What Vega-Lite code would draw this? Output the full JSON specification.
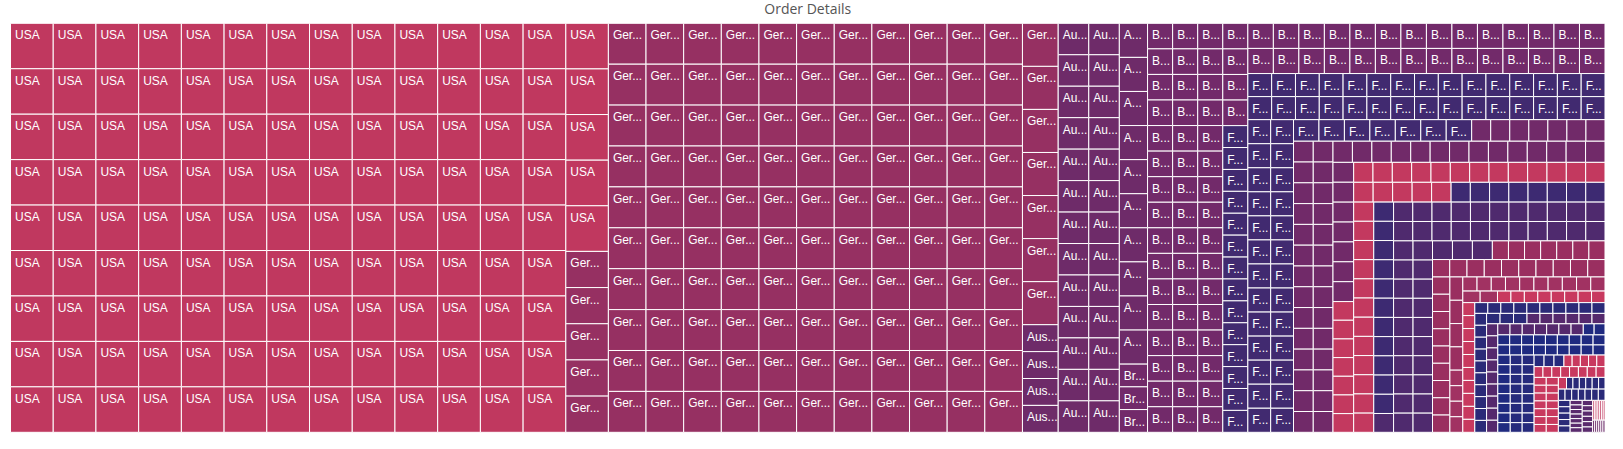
{
"$schema":"https://vega.github.io/schema/vega-lite/v6.json",
"width":1594.5,"height":409,"autosize":"none",
"padding":{"left":10.5,"top":23.3,"right":18,"bottom":17},
"background":"white",
"title":{"text":"Order Details","font":"Open Sans","fontSize":14,"fontWeight":"normal","color":"#555555","offset":6,"anchor":"middle"},
"config":{"view":{"stroke":null}},
"data":{"values":[
{"c":"USA","v":1938,"p":0,"s":1},{"c":"USA","v":1938,"p":0,"s":1},{"c":"USA","v":1938,"p":0,"s":1},{"c":"USA","v":1938,"p":0,"s":1},{"c":"USA","v":1938,"p":0,"s":1},{"c":"USA","v":1938,"p":0,"s":1},{"c":"USA","v":1938,"p":0,"s":1},{"c":"USA","v":1938,"p":0,"s":1},{"c":"USA","v":1938,"p":0,"s":1},
{"c":"USA","v":1938,"p":0,"s":2},{"c":"USA","v":1938,"p":0,"s":2},{"c":"USA","v":1938,"p":0,"s":2},{"c":"USA","v":1938,"p":0,"s":2},{"c":"USA","v":1938,"p":0,"s":2},{"c":"USA","v":1938,"p":0,"s":2},{"c":"USA","v":1938,"p":0,"s":2},{"c":"USA","v":1938,"p":0,"s":2},{"c":"USA","v":1938,"p":0,"s":2},
{"c":"USA","v":1938,"p":0,"s":3},{"c":"USA","v":1938,"p":0,"s":3},{"c":"USA","v":1938,"p":0,"s":3},{"c":"USA","v":1938,"p":0,"s":3},{"c":"USA","v":1938,"p":0,"s":3},{"c":"USA","v":1938,"p":0,"s":3},{"c":"USA","v":1938,"p":0,"s":3},{"c":"USA","v":1938,"p":0,"s":3},{"c":"USA","v":1938,"p":0,"s":3},
{"c":"USA","v":1938,"p":0,"s":4},{"c":"USA","v":1938,"p":0,"s":4},{"c":"USA","v":1938,"p":0,"s":4},{"c":"USA","v":1938,"p":0,"s":4},{"c":"USA","v":1938,"p":0,"s":4},{"c":"USA","v":1938,"p":0,"s":4},{"c":"USA","v":1938,"p":0,"s":4},{"c":"USA","v":1938,"p":0,"s":4},{"c":"USA","v":1938,"p":0,"s":4},
{"c":"USA","v":1938,"p":0,"s":5},{"c":"USA","v":1938,"p":0,"s":5},{"c":"USA","v":1938,"p":0,"s":5},{"c":"USA","v":1938,"p":0,"s":5},{"c":"USA","v":1938,"p":0,"s":5},{"c":"USA","v":1938,"p":0,"s":5},{"c":"USA","v":1938,"p":0,"s":5},{"c":"USA","v":1938,"p":0,"s":5},{"c":"USA","v":1938,"p":0,"s":5},
{"c":"USA","v":1938,"p":0,"s":6},{"c":"USA","v":1938,"p":0,"s":6},{"c":"USA","v":1938,"p":0,"s":6},{"c":"USA","v":1938,"p":0,"s":6},{"c":"USA","v":1938,"p":0,"s":6},{"c":"USA","v":1938,"p":0,"s":6},{"c":"USA","v":1938,"p":0,"s":6},{"c":"USA","v":1938,"p":0,"s":6},{"c":"USA","v":1938,"p":0,"s":6},
{"c":"USA","v":1938,"p":0,"s":7},{"c":"USA","v":1938,"p":0,"s":7},{"c":"USA","v":1938,"p":0,"s":7},{"c":"USA","v":1938,"p":0,"s":7},{"c":"USA","v":1938,"p":0,"s":7},{"c":"USA","v":1938,"p":0,"s":7},{"c":"USA","v":1938,"p":0,"s":7},{"c":"USA","v":1938,"p":0,"s":7},{"c":"USA","v":1938,"p":0,"s":7},
{"c":"USA","v":1938,"p":0,"s":8},{"c":"USA","v":1938,"p":0,"s":8},{"c":"USA","v":1938,"p":0,"s":8},{"c":"USA","v":1938,"p":0,"s":8},{"c":"USA","v":1938,"p":0,"s":8},{"c":"USA","v":1938,"p":0,"s":8},{"c":"USA","v":1938,"p":0,"s":8},{"c":"USA","v":1938,"p":0,"s":8},{"c":"USA","v":1938,"p":0,"s":8},
{"c":"USA","v":1938,"p":0,"s":9},{"c":"USA","v":1938,"p":0,"s":9},{"c":"USA","v":1938,"p":0,"s":9},{"c":"USA","v":1938,"p":0,"s":9},{"c":"USA","v":1938,"p":0,"s":9},{"c":"USA","v":1938,"p":0,"s":9},{"c":"USA","v":1938,"p":0,"s":9},{"c":"USA","v":1938,"p":0,"s":9},{"c":"USA","v":1938,"p":0,"s":9},
{"c":"USA","v":1938,"p":0,"s":10},{"c":"USA","v":1938,"p":0,"s":10},{"c":"USA","v":1938,"p":0,"s":10},{"c":"USA","v":1938,"p":0,"s":10},{"c":"USA","v":1938,"p":0,"s":10},{"c":"USA","v":1938,"p":0,"s":10},{"c":"USA","v":1938,"p":0,"s":10},{"c":"USA","v":1938,"p":0,"s":10},{"c":"USA","v":1938,"p":0,"s":10},
{"c":"USA","v":1938,"p":0,"s":11},{"c":"USA","v":1938,"p":0,"s":11},{"c":"USA","v":1938,"p":0,"s":11},{"c":"USA","v":1938,"p":0,"s":11},{"c":"USA","v":1938,"p":0,"s":11},{"c":"USA","v":1938,"p":0,"s":11},{"c":"USA","v":1938,"p":0,"s":11},{"c":"USA","v":1938,"p":0,"s":11},{"c":"USA","v":1938,"p":0,"s":11},
{"c":"USA","v":1938,"p":0,"s":12},{"c":"USA","v":1938,"p":0,"s":12},{"c":"USA","v":1938,"p":0,"s":12},{"c":"USA","v":1938,"p":0,"s":12},{"c":"USA","v":1938,"p":0,"s":12},{"c":"USA","v":1938,"p":0,"s":12},{"c":"USA","v":1938,"p":0,"s":12},{"c":"USA","v":1938,"p":0,"s":12},{"c":"USA","v":1938,"p":0,"s":12},
{"c":"USA","v":1938,"p":0,"s":13},{"c":"USA","v":1938,"p":0,"s":13},{"c":"USA","v":1938,"p":0,"s":13},{"c":"USA","v":1938,"p":0,"s":13},{"c":"USA","v":1938,"p":0,"s":13},{"c":"USA","v":1938,"p":0,"s":13},{"c":"USA","v":1938,"p":0,"s":13},{"c":"USA","v":1938,"p":0,"s":13},{"c":"USA","v":1938,"p":0,"s":13},
{"c":"USA","v":1938,"p":0,"s":14},{"c":"USA","v":1938,"p":0,"s":14},{"c":"USA","v":1938,"p":0,"s":14},{"c":"USA","v":1938,"p":0,"s":14},{"c":"USA","v":1938,"p":0,"s":14},{"c":"Germany","v":1537,"p":0,"s":14},{"c":"Germany","v":1537,"p":0,"s":14},{"c":"Germany","v":1537,"p":0,"s":14},{"c":"Germany","v":1537,"p":0,"s":14},{"c":"Germany","v":1537,"p":0,"s":14},
{"c":"Germany","v":1537,"p":0,"s":15},{"c":"Germany","v":1537,"p":0,"s":15},{"c":"Germany","v":1537,"p":0,"s":15},{"c":"Germany","v":1537,"p":0,"s":15},{"c":"Germany","v":1537,"p":0,"s":15},{"c":"Germany","v":1537,"p":0,"s":15},{"c":"Germany","v":1537,"p":0,"s":15},{"c":"Germany","v":1537,"p":0,"s":15},{"c":"Germany","v":1537,"p":0,"s":15},{"c":"Germany","v":1537,"p":0,"s":15},
{"c":"Germany","v":1537,"p":0,"s":16},{"c":"Germany","v":1537,"p":0,"s":16},{"c":"Germany","v":1537,"p":0,"s":16},{"c":"Germany","v":1537,"p":0,"s":16},{"c":"Germany","v":1537,"p":0,"s":16},{"c":"Germany","v":1537,"p":0,"s":16},{"c":"Germany","v":1537,"p":0,"s":16},{"c":"Germany","v":1537,"p":0,"s":16},{"c":"Germany","v":1537,"p":0,"s":16},{"c":"Germany","v":1537,"p":0,"s":16},
{"c":"Germany","v":1537,"p":0,"s":17},{"c":"Germany","v":1537,"p":0,"s":17},{"c":"Germany","v":1537,"p":0,"s":17},{"c":"Germany","v":1537,"p":0,"s":17},{"c":"Germany","v":1537,"p":0,"s":17},{"c":"Germany","v":1537,"p":0,"s":17},{"c":"Germany","v":1537,"p":0,"s":17},{"c":"Germany","v":1537,"p":0,"s":17},{"c":"Germany","v":1537,"p":0,"s":17},{"c":"Germany","v":1537,"p":0,"s":17},
{"c":"Germany","v":1537,"p":0,"s":18},{"c":"Germany","v":1537,"p":0,"s":18},{"c":"Germany","v":1537,"p":0,"s":18},{"c":"Germany","v":1537,"p":0,"s":18},{"c":"Germany","v":1537,"p":0,"s":18},{"c":"Germany","v":1537,"p":0,"s":18},{"c":"Germany","v":1537,"p":0,"s":18},{"c":"Germany","v":1537,"p":0,"s":18},{"c":"Germany","v":1537,"p":0,"s":18},{"c":"Germany","v":1537,"p":0,"s":18},
{"c":"Germany","v":1537,"p":0,"s":19},{"c":"Germany","v":1537,"p":0,"s":19},{"c":"Germany","v":1537,"p":0,"s":19},{"c":"Germany","v":1537,"p":0,"s":19},{"c":"Germany","v":1537,"p":0,"s":19},{"c":"Germany","v":1537,"p":0,"s":19},{"c":"Germany","v":1537,"p":0,"s":19},{"c":"Germany","v":1537,"p":0,"s":19},{"c":"Germany","v":1537,"p":0,"s":19},{"c":"Germany","v":1537,"p":0,"s":19},
{"c":"Germany","v":1537,"p":0,"s":20},{"c":"Germany","v":1537,"p":0,"s":20},{"c":"Germany","v":1537,"p":0,"s":20},{"c":"Germany","v":1537,"p":0,"s":20},{"c":"Germany","v":1537,"p":0,"s":20},{"c":"Germany","v":1537,"p":0,"s":20},{"c":"Germany","v":1537,"p":0,"s":20},{"c":"Germany","v":1537,"p":0,"s":20},{"c":"Germany","v":1537,"p":0,"s":20},{"c":"Germany","v":1537,"p":0,"s":20},
{"c":"Germany","v":1537,"p":0,"s":21},{"c":"Germany","v":1537,"p":0,"s":21},{"c":"Germany","v":1537,"p":0,"s":21},{"c":"Germany","v":1537,"p":0,"s":21},{"c":"Germany","v":1537,"p":0,"s":21},{"c":"Germany","v":1537,"p":0,"s":21},{"c":"Germany","v":1537,"p":0,"s":21},{"c":"Germany","v":1537,"p":0,"s":21},{"c":"Germany","v":1537,"p":0,"s":21},{"c":"Germany","v":1537,"p":0,"s":21},
{"c":"Germany","v":1537,"p":0,"s":22},{"c":"Germany","v":1537,"p":0,"s":22},{"c":"Germany","v":1537,"p":0,"s":22},{"c":"Germany","v":1537,"p":0,"s":22},{"c":"Germany","v":1537,"p":0,"s":22},{"c":"Germany","v":1537,"p":0,"s":22},{"c":"Germany","v":1537,"p":0,"s":22},{"c":"Germany","v":1537,"p":0,"s":22},{"c":"Germany","v":1537,"p":0,"s":22},{"c":"Germany","v":1537,"p":0,"s":22},
{"c":"Germany","v":1537,"p":0,"s":23},{"c":"Germany","v":1537,"p":0,"s":23},{"c":"Germany","v":1537,"p":0,"s":23},{"c":"Germany","v":1537,"p":0,"s":23},{"c":"Germany","v":1537,"p":0,"s":23},{"c":"Germany","v":1537,"p":0,"s":23},{"c":"Germany","v":1537,"p":0,"s":23},{"c":"Germany","v":1537,"p":0,"s":23},{"c":"Germany","v":1537,"p":0,"s":23},{"c":"Germany","v":1537,"p":0,"s":23},
{"c":"Germany","v":1537,"p":0,"s":24},{"c":"Germany","v":1537,"p":0,"s":24},{"c":"Germany","v":1537,"p":0,"s":24},{"c":"Germany","v":1537,"p":0,"s":24},{"c":"Germany","v":1537,"p":0,"s":24},{"c":"Germany","v":1537,"p":0,"s":24},{"c":"Germany","v":1537,"p":0,"s":24},{"c":"Germany","v":1537,"p":0,"s":24},{"c":"Germany","v":1537,"p":0,"s":24},{"c":"Germany","v":1537,"p":0,"s":24},
{"c":"Germany","v":1537,"p":0,"s":25},{"c":"Germany","v":1537,"p":0,"s":25},{"c":"Germany","v":1537,"p":0,"s":25},{"c":"Germany","v":1537,"p":0,"s":25},{"c":"Germany","v":1537,"p":0,"s":25},{"c":"Germany","v":1537,"p":0,"s":25},{"c":"Germany","v":1537,"p":0,"s":25},{"c":"Germany","v":1537,"p":0,"s":25},{"c":"Germany","v":1537,"p":0,"s":25},{"c":"Germany","v":1537,"p":0,"s":25},
{"c":"Germany","v":1537,"p":0,"s":26},{"c":"Germany","v":1537,"p":0,"s":26},{"c":"Germany","v":1537,"p":0,"s":26},{"c":"Germany","v":1537,"p":0,"s":26},{"c":"Germany","v":1537,"p":0,"s":26},{"c":"Germany","v":1537,"p":0,"s":26},{"c":"Germany","v":1537,"p":0,"s":26},{"c":"Austria","v":960,"p":0,"s":26},{"c":"Austria","v":960,"p":0,"s":26},{"c":"Austria","v":960,"p":0,"s":26},{"c":"Austria","v":960,"p":0,"s":26},
{"c":"Austria","v":960,"p":0,"s":27},{"c":"Austria","v":960,"p":0,"s":27},{"c":"Austria","v":960,"p":0,"s":27},{"c":"Austria","v":960,"p":0,"s":27},{"c":"Austria","v":960,"p":0,"s":27},{"c":"Austria","v":960,"p":0,"s":27},{"c":"Austria","v":960,"p":0,"s":27},{"c":"Austria","v":960,"p":0,"s":27},{"c":"Austria","v":960,"p":0,"s":27},{"c":"Austria","v":960,"p":0,"s":27},{"c":"Austria","v":960,"p":0,"s":27},{"c":"Austria","v":960,"p":0,"s":27},{"c":"Austria","v":960,"p":0,"s":27},
{"c":"Austria","v":960,"p":0,"s":28},{"c":"Austria","v":960,"p":0,"s":28},{"c":"Austria","v":960,"p":0,"s":28},{"c":"Austria","v":960,"p":0,"s":28},{"c":"Austria","v":960,"p":0,"s":28},{"c":"Austria","v":960,"p":0,"s":28},{"c":"Austria","v":960,"p":0,"s":28},{"c":"Austria","v":960,"p":0,"s":28},{"c":"Austria","v":960,"p":0,"s":28},{"c":"Austria","v":960,"p":0,"s":28},{"c":"Austria","v":960,"p":0,"s":28},{"c":"Austria","v":960,"p":0,"s":28},{"c":"Austria","v":960,"p":0,"s":28},
{"c":"Austria","v":960,"p":0,"s":29},{"c":"Austria","v":960,"p":0,"s":29},{"c":"Austria","v":960,"p":0,"s":29},{"c":"Austria","v":960,"p":0,"s":29},{"c":"Austria","v":960,"p":0,"s":29},{"c":"Austria","v":960,"p":0,"s":29},{"c":"Austria","v":960,"p":0,"s":29},{"c":"Austria","v":960,"p":0,"s":29},{"c":"Austria","v":960,"p":0,"s":29},{"c":"Austria","v":960,"p":0,"s":29},{"c":"Brazil","v":640,"p":0,"s":29},{"c":"Brazil","v":640,"p":0,"s":29},{"c":"Brazil","v":640,"p":0,"s":29},
{"c":"Brazil","v":640,"p":0,"s":30},{"c":"Brazil","v":640,"p":0,"s":30},{"c":"Brazil","v":640,"p":0,"s":30},{"c":"Brazil","v":640,"p":0,"s":30},{"c":"Brazil","v":640,"p":0,"s":30},{"c":"Brazil","v":640,"p":0,"s":30},{"c":"Brazil","v":640,"p":0,"s":30},{"c":"Brazil","v":640,"p":0,"s":30},{"c":"Brazil","v":640,"p":0,"s":30},{"c":"Brazil","v":640,"p":0,"s":30},{"c":"Brazil","v":640,"p":0,"s":30},{"c":"Brazil","v":640,"p":0,"s":30},{"c":"Brazil","v":640,"p":0,"s":30},{"c":"Brazil","v":640,"p":0,"s":30},{"c":"Brazil","v":640,"p":0,"s":30},{"c":"Brazil","v":640,"p":0,"s":30},
{"c":"Brazil","v":640,"p":0,"s":31},{"c":"Brazil","v":640,"p":0,"s":31},{"c":"Brazil","v":640,"p":0,"s":31},{"c":"Brazil","v":640,"p":0,"s":31},{"c":"Brazil","v":640,"p":0,"s":31},{"c":"Brazil","v":640,"p":0,"s":31},{"c":"Brazil","v":640,"p":0,"s":31},{"c":"Brazil","v":640,"p":0,"s":31},{"c":"Brazil","v":640,"p":0,"s":31},{"c":"Brazil","v":640,"p":0,"s":31},{"c":"Brazil","v":640,"p":0,"s":31},{"c":"Brazil","v":640,"p":0,"s":31},{"c":"Brazil","v":640,"p":0,"s":31},{"c":"Brazil","v":640,"p":0,"s":31},{"c":"Brazil","v":640,"p":0,"s":31},{"c":"Brazil","v":640,"p":0,"s":31},
{"c":"Brazil","v":640,"p":0,"s":32},{"c":"Brazil","v":640,"p":0,"s":32},{"c":"Brazil","v":640,"p":0,"s":32},{"c":"Brazil","v":640,"p":0,"s":32},{"c":"Brazil","v":640,"p":0,"s":32},{"c":"Brazil","v":640,"p":0,"s":32},{"c":"Brazil","v":640,"p":0,"s":32},{"c":"Brazil","v":640,"p":0,"s":32},{"c":"Brazil","v":640,"p":0,"s":32},{"c":"Brazil","v":640,"p":0,"s":32},{"c":"Brazil","v":640,"p":0,"s":32},{"c":"Brazil","v":640,"p":0,"s":32},{"c":"Brazil","v":640,"p":0,"s":32},{"c":"Brazil","v":640,"p":0,"s":32},{"c":"Brazil","v":640,"p":0,"s":32},{"c":"Brazil","v":640,"p":0,"s":32},
{"c":"Brazil","v":640,"p":0,"s":33},{"c":"Brazil","v":640,"p":0,"s":33},{"c":"Brazil","v":640,"p":0,"s":33},{"c":"Brazil","v":640,"p":0,"s":33},{"c":"France","v":548,"p":0,"s":33},{"c":"France","v":548,"p":0,"s":33},{"c":"France","v":548,"p":0,"s":33},{"c":"France","v":548,"p":0,"s":33},{"c":"France","v":548,"p":0,"s":33},{"c":"France","v":548,"p":0,"s":33},{"c":"France","v":548,"p":0,"s":33},{"c":"France","v":548,"p":0,"s":33},{"c":"France","v":548,"p":0,"s":33},{"c":"France","v":548,"p":0,"s":33},{"c":"France","v":548,"p":0,"s":33},{"c":"France","v":548,"p":0,"s":33},{"c":"France","v":548,"p":0,"s":33},{"c":"France","v":548,"p":0,"s":33},
{"c":"Brazil","v":640,"p":1,"s":34},{"c":"Brazil","v":640,"p":1,"s":34},{"c":"Brazil","v":640,"p":1,"s":34},{"c":"Brazil","v":640,"p":1,"s":34},{"c":"Brazil","v":640,"p":1,"s":34},{"c":"Brazil","v":640,"p":1,"s":34},{"c":"Brazil","v":640,"p":1,"s":34},{"c":"Brazil","v":640,"p":1,"s":34},{"c":"Brazil","v":640,"p":1,"s":34},{"c":"Brazil","v":640,"p":1,"s":34},{"c":"Brazil","v":640,"p":1,"s":34},{"c":"Brazil","v":640,"p":1,"s":34},{"c":"Brazil","v":640,"p":1,"s":34},{"c":"Brazil","v":640,"p":1,"s":34},
{"c":"Brazil","v":640,"p":1,"s":35},{"c":"Brazil","v":640,"p":1,"s":35},{"c":"Brazil","v":640,"p":1,"s":35},{"c":"Brazil","v":640,"p":1,"s":35},{"c":"Brazil","v":640,"p":1,"s":35},{"c":"Brazil","v":640,"p":1,"s":35},{"c":"Brazil","v":640,"p":1,"s":35},{"c":"Brazil","v":640,"p":1,"s":35},{"c":"Brazil","v":640,"p":1,"s":35},{"c":"Brazil","v":640,"p":1,"s":35},{"c":"Brazil","v":640,"p":1,"s":35},{"c":"Brazil","v":640,"p":1,"s":35},{"c":"Brazil","v":640,"p":1,"s":35},{"c":"Brazil","v":640,"p":1,"s":35},
{"c":"France","v":548,"p":1,"s":36},{"c":"France","v":548,"p":1,"s":36},{"c":"France","v":548,"p":1,"s":36},{"c":"France","v":548,"p":1,"s":36},{"c":"France","v":548,"p":1,"s":36},{"c":"France","v":548,"p":1,"s":36},{"c":"France","v":548,"p":1,"s":36},{"c":"France","v":548,"p":1,"s":36},{"c":"France","v":548,"p":1,"s":36},{"c":"France","v":548,"p":1,"s":36},{"c":"France","v":548,"p":1,"s":36},{"c":"France","v":548,"p":1,"s":36},{"c":"France","v":548,"p":1,"s":36},{"c":"France","v":548,"p":1,"s":36},{"c":"France","v":548,"p":1,"s":36},
{"c":"France","v":548,"p":1,"s":37},{"c":"France","v":548,"p":1,"s":37},{"c":"France","v":548,"p":1,"s":37},{"c":"France","v":548,"p":1,"s":37},{"c":"France","v":548,"p":1,"s":37},{"c":"France","v":548,"p":1,"s":37},{"c":"France","v":548,"p":1,"s":37},{"c":"France","v":548,"p":1,"s":37},{"c":"France","v":548,"p":1,"s":37},{"c":"France","v":548,"p":1,"s":37},{"c":"France","v":548,"p":1,"s":37},{"c":"France","v":548,"p":1,"s":37},{"c":"France","v":548,"p":1,"s":37},{"c":"France","v":548,"p":1,"s":37},{"c":"France","v":548,"p":1,"s":37},
{"c":"France","v":548,"p":2,"s":38},{"c":"France","v":548,"p":2,"s":38},{"c":"France","v":548,"p":2,"s":38},{"c":"France","v":548,"p":2,"s":38},{"c":"France","v":548,"p":2,"s":38},{"c":"France","v":548,"p":2,"s":38},{"c":"France","v":548,"p":2,"s":38},{"c":"France","v":548,"p":2,"s":38},{"c":"France","v":548,"p":2,"s":38},{"c":"France","v":548,"p":2,"s":38},{"c":"France","v":548,"p":2,"s":38},{"c":"France","v":548,"p":2,"s":38},{"c":"France","v":548,"p":2,"s":38},
{"c":"France","v":548,"p":2,"s":39},{"c":"France","v":548,"p":2,"s":39},{"c":"France","v":548,"p":2,"s":39},{"c":"France","v":548,"p":2,"s":39},{"c":"France","v":548,"p":2,"s":39},{"c":"France","v":548,"p":2,"s":39},{"c":"France","v":548,"p":2,"s":39},{"c":"France","v":548,"p":2,"s":39},{"c":"France","v":548,"p":2,"s":39},{"c":"France","v":548,"p":2,"s":39},{"c":"France","v":548,"p":2,"s":39},{"c":"France","v":548,"p":2,"s":39},{"c":"France","v":548,"p":2,"s":39},
{"c":"France","v":548,"p":3,"s":40},{"c":"France","v":548,"p":3,"s":40},{"c":"France","v":548,"p":3,"s":40},{"c":"France","v":548,"p":3,"s":40},{"c":"France","v":548,"p":3,"s":40},{"c":"France","v":548,"p":3,"s":40},{"c":"France","v":548,"p":3,"s":40},{"c":"UK","v":410,"p":3,"s":40},{"c":"UK","v":410,"p":3,"s":40},{"c":"UK","v":410,"p":3,"s":40},{"c":"UK","v":410,"p":3,"s":40},{"c":"UK","v":410,"p":3,"s":40},{"c":"UK","v":410,"p":3,"s":40},{"c":"UK","v":410,"p":3,"s":40},
{"c":"UK","v":410,"p":4,"s":41},{"c":"UK","v":410,"p":4,"s":41},{"c":"UK","v":410,"p":4,"s":41},{"c":"UK","v":410,"p":4,"s":41},{"c":"UK","v":410,"p":4,"s":41},{"c":"UK","v":410,"p":4,"s":41},{"c":"UK","v":410,"p":4,"s":41},{"c":"UK","v":410,"p":4,"s":41},{"c":"UK","v":410,"p":4,"s":41},{"c":"UK","v":410,"p":4,"s":41},{"c":"UK","v":410,"p":4,"s":41},{"c":"UK","v":410,"p":4,"s":41},{"c":"UK","v":410,"p":4,"s":41},{"c":"UK","v":410,"p":4,"s":41},
{"c":"UK","v":410,"p":4,"s":42},{"c":"UK","v":410,"p":4,"s":42},{"c":"UK","v":410,"p":4,"s":42},{"c":"UK","v":410,"p":4,"s":42},{"c":"UK","v":410,"p":4,"s":42},{"c":"UK","v":410,"p":4,"s":42},{"c":"UK","v":410,"p":4,"s":42},{"c":"UK","v":410,"p":4,"s":42},{"c":"UK","v":410,"p":4,"s":42},{"c":"UK","v":410,"p":4,"s":42},{"c":"UK","v":410,"p":4,"s":42},{"c":"UK","v":410,"p":4,"s":42},{"c":"UK","v":410,"p":4,"s":42},{"c":"UK","v":410,"p":4,"s":42},
{"c":"UK","v":410,"p":5,"s":43},{"c":"UK","v":410,"p":5,"s":43},{"c":"UK","v":410,"p":5,"s":43},{"c":"UK","v":410,"p":5,"s":43},{"c":"UK","v":410,"p":5,"s":43},{"c":"UK","v":410,"p":5,"s":43},{"c":"UK","v":410,"p":5,"s":43},{"c":"UK","v":410,"p":5,"s":43},{"c":"UK","v":410,"p":5,"s":43},{"c":"UK","v":410,"p":5,"s":43},{"c":"UK","v":410,"p":5,"s":43},{"c":"UK","v":410,"p":5,"s":43},{"c":"UK","v":410,"p":5,"s":43},{"c":"UK","v":410,"p":5,"s":43},
{"c":"UK","v":410,"p":6,"s":44},{"c":"UK","v":410,"p":6,"s":44},{"c":"UK","v":410,"p":6,"s":44},{"c":"UK","v":410,"p":6,"s":44},{"c":"UK","v":410,"p":6,"s":44},{"c":"UK","v":410,"p":6,"s":44},{"c":"UK","v":410,"p":6,"s":44},{"c":"Sweden","v":385,"p":6,"s":44},{"c":"Sweden","v":385,"p":6,"s":44},{"c":"Sweden","v":385,"p":6,"s":44},{"c":"Sweden","v":385,"p":6,"s":44},{"c":"Sweden","v":385,"p":6,"s":44},{"c":"Sweden","v":385,"p":6,"s":44},{"c":"Sweden","v":385,"p":6,"s":44},
{"c":"Sweden","v":385,"p":7,"s":45},{"c":"Sweden","v":385,"p":7,"s":45},{"c":"Sweden","v":385,"p":7,"s":45},{"c":"Sweden","v":385,"p":7,"s":45},{"c":"Sweden","v":385,"p":7,"s":45},{"c":"Sweden","v":385,"p":7,"s":45},{"c":"Sweden","v":385,"p":7,"s":45},{"c":"Sweden","v":385,"p":7,"s":45},{"c":"Sweden","v":385,"p":7,"s":45},{"c":"Sweden","v":385,"p":7,"s":45},{"c":"Sweden","v":385,"p":7,"s":45},{"c":"Sweden","v":385,"p":7,"s":45},{"c":"Sweden","v":385,"p":7,"s":45},
{"c":"Sweden","v":385,"p":7,"s":46},{"c":"Sweden","v":385,"p":7,"s":46},{"c":"Sweden","v":385,"p":7,"s":46},{"c":"Sweden","v":385,"p":7,"s":46},{"c":"Sweden","v":385,"p":7,"s":46},{"c":"Ireland","v":380,"p":7,"s":46},{"c":"Ireland","v":380,"p":7,"s":46},{"c":"Ireland","v":380,"p":7,"s":46},{"c":"Ireland","v":380,"p":7,"s":46},{"c":"Ireland","v":380,"p":7,"s":46},{"c":"Ireland","v":380,"p":7,"s":46},{"c":"Ireland","v":380,"p":7,"s":46},{"c":"Ireland","v":380,"p":7,"s":46},
{"c":"Sweden","v":385,"p":8,"s":47},{"c":"Sweden","v":385,"p":8,"s":47},{"c":"Sweden","v":385,"p":8,"s":47},{"c":"Sweden","v":385,"p":8,"s":47},{"c":"Sweden","v":385,"p":8,"s":47},{"c":"Sweden","v":385,"p":8,"s":47},{"c":"Sweden","v":385,"p":8,"s":47},{"c":"Sweden","v":385,"p":8,"s":47},{"c":"Sweden","v":385,"p":8,"s":47},{"c":"Sweden","v":385,"p":8,"s":47},{"c":"Sweden","v":385,"p":8,"s":47},{"c":"Sweden","v":385,"p":8,"s":47},
{"c":"Ireland","v":380,"p":8,"s":48},{"c":"Ireland","v":380,"p":8,"s":48},{"c":"Ireland","v":380,"p":8,"s":48},{"c":"Ireland","v":380,"p":8,"s":48},{"c":"Ireland","v":380,"p":8,"s":48},{"c":"Ireland","v":380,"p":8,"s":48},{"c":"Ireland","v":380,"p":8,"s":48},{"c":"Ireland","v":380,"p":8,"s":48},{"c":"Ireland","v":380,"p":8,"s":48},{"c":"Ireland","v":380,"p":8,"s":48},{"c":"Ireland","v":380,"p":8,"s":48},{"c":"Venezuela","v":372,"p":8,"s":48},
{"c":"Venezuela","v":372,"p":9,"s":49},{"c":"Venezuela","v":372,"p":9,"s":49},{"c":"Venezuela","v":372,"p":9,"s":49},{"c":"Venezuela","v":372,"p":9,"s":49},{"c":"Venezuela","v":372,"p":9,"s":49},{"c":"Venezuela","v":372,"p":9,"s":49},{"c":"Venezuela","v":372,"p":9,"s":49},{"c":"Venezuela","v":372,"p":9,"s":49},{"c":"Venezuela","v":372,"p":9,"s":49},{"c":"Venezuela","v":372,"p":9,"s":49},{"c":"Venezuela","v":372,"p":9,"s":49},
{"c":"Venezuela","v":372,"p":9,"s":50},{"c":"Venezuela","v":372,"p":9,"s":50},{"c":"Venezuela","v":372,"p":9,"s":50},{"c":"Venezuela","v":372,"p":9,"s":50},{"c":"Venezuela","v":372,"p":9,"s":50},{"c":"Venezuela","v":372,"p":9,"s":50},{"c":"Venezuela","v":372,"p":9,"s":50},{"c":"Venezuela","v":372,"p":9,"s":50},{"c":"Venezuela","v":372,"p":9,"s":50},{"c":"Venezuela","v":372,"p":9,"s":50},{"c":"Venezuela","v":372,"p":9,"s":50},
{"c":"Venezuela","v":372,"p":10,"s":51},{"c":"Venezuela","v":372,"p":10,"s":51},{"c":"Venezuela","v":372,"p":10,"s":51},{"c":"Venezuela","v":372,"p":10,"s":51},{"c":"Venezuela","v":372,"p":10,"s":51},{"c":"Venezuela","v":372,"p":10,"s":51},{"c":"Venezuela","v":372,"p":10,"s":51},{"c":"Venezuela","v":372,"p":10,"s":51},{"c":"Venezuela","v":372,"p":10,"s":51},{"c":"Venezuela","v":372,"p":10,"s":51},
{"c":"Venezuela","v":372,"p":10,"s":52},{"c":"Venezuela","v":372,"p":10,"s":52},{"c":"Venezuela","v":372,"p":10,"s":52},{"c":"Venezuela","v":372,"p":10,"s":52},{"c":"Venezuela","v":372,"p":10,"s":52},{"c":"Venezuela","v":372,"p":10,"s":52},{"c":"Venezuela","v":372,"p":10,"s":52},{"c":"Venezuela","v":372,"p":10,"s":52},{"c":"Venezuela","v":372,"p":10,"s":52},{"c":"Venezuela","v":372,"p":10,"s":52},
{"c":"Venezuela","v":372,"p":11,"s":53},{"c":"Venezuela","v":372,"p":11,"s":53},{"c":"Venezuela","v":372,"p":11,"s":53},{"c":"Canada","v":300,"p":11,"s":53},{"c":"Canada","v":300,"p":11,"s":53},{"c":"Canada","v":300,"p":11,"s":53},{"c":"Canada","v":300,"p":11,"s":53},{"c":"Canada","v":300,"p":11,"s":53},{"c":"Canada","v":300,"p":11,"s":53},{"c":"Canada","v":300,"p":11,"s":53},
{"c":"Canada","v":300,"p":11,"s":54},{"c":"Canada","v":300,"p":11,"s":54},{"c":"Canada","v":300,"p":11,"s":54},{"c":"Canada","v":300,"p":11,"s":54},{"c":"Canada","v":300,"p":11,"s":54},{"c":"Canada","v":300,"p":11,"s":54},{"c":"Canada","v":300,"p":11,"s":54},{"c":"Canada","v":300,"p":11,"s":54},{"c":"Canada","v":300,"p":11,"s":54},{"c":"Canada","v":300,"p":11,"s":54},
{"c":"Canada","v":300,"p":12,"s":55},{"c":"Canada","v":300,"p":12,"s":55},{"c":"Canada","v":300,"p":12,"s":55},{"c":"Canada","v":300,"p":12,"s":55},{"c":"Canada","v":300,"p":12,"s":55},{"c":"Canada","v":300,"p":12,"s":55},{"c":"Canada","v":300,"p":12,"s":55},{"c":"Canada","v":300,"p":12,"s":55},{"c":"Canada","v":300,"p":12,"s":55},
{"c":"Canada","v":300,"p":12,"s":56},{"c":"Canada","v":300,"p":12,"s":56},{"c":"Canada","v":300,"p":12,"s":56},{"c":"Canada","v":300,"p":12,"s":56},{"c":"Argentina","v":200,"p":12,"s":56},{"c":"Argentina","v":200,"p":12,"s":56},{"c":"Argentina","v":200,"p":12,"s":56},{"c":"Argentina","v":200,"p":12,"s":56},
{"c":"Argentina","v":200,"p":13,"s":57},{"c":"Argentina","v":200,"p":13,"s":57},{"c":"Argentina","v":200,"p":13,"s":57},{"c":"Argentina","v":200,"p":13,"s":57},{"c":"Argentina","v":200,"p":13,"s":57},{"c":"Argentina","v":200,"p":13,"s":57},{"c":"Argentina","v":200,"p":13,"s":57},{"c":"Argentina","v":200,"p":13,"s":57},{"c":"Argentina","v":200,"p":13,"s":57},{"c":"Argentina","v":200,"p":13,"s":57},
{"c":"Argentina","v":200,"p":13,"s":58},{"c":"Argentina","v":200,"p":13,"s":58},{"c":"Switzerland","v":155,"p":13,"s":58},{"c":"Switzerland","v":155,"p":13,"s":58},{"c":"Switzerland","v":155,"p":13,"s":58},{"c":"Switzerland","v":155,"p":13,"s":58},{"c":"Switzerland","v":155,"p":13,"s":58},{"c":"Switzerland","v":155,"p":13,"s":58},{"c":"Switzerland","v":155,"p":13,"s":58},{"c":"Switzerland","v":155,"p":13,"s":58},
{"c":"Switzerland","v":155,"p":14,"s":59},{"c":"Switzerland","v":155,"p":14,"s":59},{"c":"Switzerland","v":155,"p":14,"s":59},{"c":"Switzerland","v":155,"p":14,"s":59},{"c":"Switzerland","v":155,"p":14,"s":59},{"c":"Switzerland","v":155,"p":14,"s":59},{"c":"Switzerland","v":155,"p":14,"s":59},{"c":"Switzerland","v":155,"p":14,"s":59},{"c":"Switzerland","v":155,"p":14,"s":59},{"c":"Switzerland","v":155,"p":14,"s":59},
{"c":"Spain","v":140,"p":15,"s":60},{"c":"Spain","v":140,"p":15,"s":60},{"c":"Spain","v":140,"p":15,"s":60},{"c":"Spain","v":140,"p":15,"s":60},{"c":"Spain","v":140,"p":15,"s":60},{"c":"Spain","v":140,"p":15,"s":60},{"c":"Spain","v":140,"p":15,"s":60},{"c":"Spain","v":140,"p":15,"s":60},{"c":"Spain","v":140,"p":15,"s":60},{"c":"Spain","v":140,"p":15,"s":60},
{"c":"Spain","v":140,"p":16,"s":61},{"c":"Spain","v":140,"p":16,"s":61},{"c":"Spain","v":140,"p":16,"s":61},{"c":"Spain","v":140,"p":16,"s":61},{"c":"Spain","v":140,"p":16,"s":61},{"c":"Spain","v":140,"p":16,"s":61},{"c":"Spain","v":140,"p":16,"s":61},{"c":"Spain","v":140,"p":16,"s":61},{"c":"Spain","v":140,"p":16,"s":61},{"c":"Spain","v":140,"p":16,"s":61},
{"c":"Spain","v":140,"p":17,"s":62},{"c":"Spain","v":140,"p":17,"s":62},{"c":"Spain","v":140,"p":17,"s":62},{"c":"Finland","v":135,"p":17,"s":62},{"c":"Finland","v":135,"p":17,"s":62},{"c":"Finland","v":135,"p":17,"s":62},{"c":"Finland","v":135,"p":17,"s":62},{"c":"Finland","v":135,"p":17,"s":62},{"c":"Finland","v":135,"p":17,"s":62},
{"c":"Finland","v":135,"p":18,"s":63},{"c":"Finland","v":135,"p":18,"s":63},{"c":"Finland","v":135,"p":18,"s":63},{"c":"Finland","v":135,"p":18,"s":63},{"c":"Finland","v":135,"p":18,"s":63},{"c":"Finland","v":135,"p":18,"s":63},{"c":"Finland","v":135,"p":18,"s":63},{"c":"Finland","v":135,"p":18,"s":63},{"c":"Finland","v":135,"p":18,"s":63},
{"c":"Finland","v":135,"p":19,"s":64},{"c":"Finland","v":135,"p":19,"s":64},{"c":"Finland","v":135,"p":19,"s":64},{"c":"Finland","v":135,"p":19,"s":64},{"c":"Finland","v":135,"p":19,"s":64},{"c":"Finland","v":135,"p":19,"s":64},{"c":"Finland","v":135,"p":19,"s":64},{"c":"Mexico","v":120,"p":19,"s":64},{"c":"Mexico","v":120,"p":19,"s":64},
{"c":"Mexico","v":120,"p":19,"s":65},{"c":"Mexico","v":120,"p":19,"s":65},{"c":"Mexico","v":120,"p":19,"s":65},{"c":"Mexico","v":120,"p":19,"s":65},{"c":"Mexico","v":120,"p":19,"s":65},{"c":"Mexico","v":120,"p":19,"s":65},{"c":"Mexico","v":120,"p":19,"s":65},{"c":"Mexico","v":120,"p":19,"s":65},{"c":"Mexico","v":120,"p":19,"s":65},
{"c":"Mexico","v":120,"p":19,"s":66},{"c":"Mexico","v":120,"p":19,"s":66},{"c":"Mexico","v":120,"p":19,"s":66},{"c":"Mexico","v":120,"p":19,"s":66},{"c":"Mexico","v":120,"p":19,"s":66},{"c":"Mexico","v":120,"p":19,"s":66},{"c":"Mexico","v":120,"p":19,"s":66},{"c":"Mexico","v":120,"p":19,"s":66},{"c":"Mexico","v":120,"p":19,"s":66},
{"c":"Mexico","v":120,"p":20,"s":67},{"c":"Mexico","v":120,"p":20,"s":67},{"c":"Mexico","v":120,"p":20,"s":67},{"c":"Mexico","v":120,"p":20,"s":67},{"c":"Mexico","v":120,"p":20,"s":67},{"c":"Mexico","v":120,"p":20,"s":67},{"c":"Mexico","v":120,"p":20,"s":67},{"c":"Mexico","v":120,"p":20,"s":67},
{"c":"Belgium","v":115,"p":20,"s":68},{"c":"Belgium","v":115,"p":20,"s":68},{"c":"Belgium","v":115,"p":20,"s":68},{"c":"Belgium","v":115,"p":20,"s":68},{"c":"Belgium","v":115,"p":20,"s":68},{"c":"Belgium","v":115,"p":20,"s":68},{"c":"Belgium","v":115,"p":20,"s":68},{"c":"Belgium","v":115,"p":20,"s":68},
{"c":"Belgium","v":115,"p":20,"s":69},{"c":"Belgium","v":115,"p":20,"s":69},{"c":"Belgium","v":115,"p":20,"s":69},{"c":"Belgium","v":115,"p":20,"s":69},{"c":"Belgium","v":115,"p":20,"s":69},{"c":"Belgium","v":115,"p":20,"s":69},{"c":"Belgium","v":115,"p":20,"s":69},{"c":"Belgium","v":115,"p":20,"s":69},
{"c":"Belgium","v":115,"p":21,"s":70},{"c":"Belgium","v":115,"p":21,"s":70},{"c":"Belgium","v":115,"p":21,"s":70},{"c":"Italy","v":95,"p":21,"s":70},{"c":"Italy","v":95,"p":21,"s":70},{"c":"Italy","v":95,"p":21,"s":70},{"c":"Italy","v":95,"p":21,"s":70},{"c":"Italy","v":95,"p":21,"s":70},
{"c":"Italy","v":95,"p":21,"s":71},{"c":"Italy","v":95,"p":21,"s":71},{"c":"Italy","v":95,"p":21,"s":71},{"c":"Italy","v":95,"p":21,"s":71},{"c":"Italy","v":95,"p":21,"s":71},{"c":"Italy","v":95,"p":21,"s":71},{"c":"Italy","v":95,"p":21,"s":71},{"c":"Italy","v":95,"p":21,"s":71},
{"c":"Italy","v":95,"p":22,"s":72},{"c":"Italy","v":95,"p":22,"s":72},{"c":"Italy","v":95,"p":22,"s":72},{"c":"Italy","v":95,"p":22,"s":72},{"c":"Italy","v":95,"p":22,"s":72},{"c":"Italy","v":95,"p":22,"s":72},{"c":"Italy","v":95,"p":22,"s":72},
{"c":"Italy","v":95,"p":22,"s":73},{"c":"Italy","v":95,"p":22,"s":73},{"c":"Italy","v":95,"p":22,"s":73},{"c":"Italy","v":95,"p":22,"s":73},{"c":"Italy","v":95,"p":22,"s":73},{"c":"Italy","v":95,"p":22,"s":73},{"c":"Italy","v":95,"p":22,"s":73},
{"c":"Italy","v":95,"p":23,"s":74},{"c":"Denmark","v":75,"p":23,"s":74},{"c":"Denmark","v":75,"p":23,"s":74},{"c":"Denmark","v":75,"p":23,"s":74},{"c":"Denmark","v":75,"p":23,"s":74},{"c":"Denmark","v":75,"p":23,"s":74},{"c":"Denmark","v":75,"p":23,"s":74},
{"c":"Denmark","v":75,"p":23,"s":75},{"c":"Denmark","v":75,"p":23,"s":75},{"c":"Denmark","v":75,"p":23,"s":75},{"c":"Denmark","v":75,"p":23,"s":75},{"c":"Denmark","v":75,"p":23,"s":75},{"c":"Denmark","v":75,"p":23,"s":75},{"c":"Denmark","v":75,"p":23,"s":75},
{"c":"Denmark","v":75,"p":24,"s":76},{"c":"Denmark","v":75,"p":24,"s":76},{"c":"Denmark","v":75,"p":24,"s":76},{"c":"Denmark","v":75,"p":24,"s":76},{"c":"Denmark","v":75,"p":24,"s":76},
{"c":"Portugal","v":55,"p":24,"s":77},{"c":"Portugal","v":55,"p":24,"s":77},{"c":"Portugal","v":55,"p":24,"s":77},{"c":"Portugal","v":55,"p":24,"s":77},{"c":"Portugal","v":55,"p":24,"s":77},{"c":"Portugal","v":55,"p":24,"s":77},{"c":"Portugal","v":55,"p":24,"s":77},
{"c":"Portugal","v":55,"p":24,"s":78},{"c":"Portugal","v":55,"p":24,"s":78},{"c":"Portugal","v":55,"p":24,"s":78},{"c":"Portugal","v":55,"p":24,"s":78},{"c":"Portugal","v":55,"p":24,"s":78},{"c":"Portugal","v":55,"p":24,"s":78},
{"c":"Poland","v":35,"p":25,"s":79},{"c":"Poland","v":35,"p":25,"s":79},{"c":"Poland","v":35,"p":25,"s":79},{"c":"Poland","v":35,"p":25,"s":79},{"c":"Poland","v":35,"p":25,"s":79},{"c":"Poland","v":35,"p":25,"s":79},{"c":"Poland","v":35,"p":25,"s":79},
{"c":"Norway","v":25,"p":25,"s":80},{"c":"Norway","v":25,"p":25,"s":80},{"c":"Norway","v":25,"p":25,"s":80},{"c":"Norway","v":25,"p":25,"s":80},{"c":"Norway","v":25,"p":25,"s":80},{"c":"Norway","v":25,"p":25,"s":80}
]},
"transform":[
{"window":[{"op":"row_number","as":"i"}]},
{"joinaggregate":[{"op":"sum","field":"v","as":"S"}]},
{"joinaggregate":[{"op":"sum","field":"v","as":"T"}],"groupby":["s"]},
{"window":[{"op":"sum","field":"v","as":"cs"}],"groupby":["s"],"sort":[{"field":"i"}],"frame":[null,0]},
{"window":[{"op":"sum","field":"v","as":"cp"}],"groupby":["p"],"sort":[{"field":"i"}],"frame":[null,0]},
{"calculate":"datum.p==0?datum.v:0","as":"q0"},{"calculate":"datum.p==1?datum.v:0","as":"q1"},{"calculate":"datum.p==2?datum.v:0","as":"q2"},{"calculate":"datum.p==3?datum.v:0","as":"q3"},{"calculate":"datum.p==4?datum.v:0","as":"q4"},{"calculate":"datum.p==5?datum.v:0","as":"q5"},{"calculate":"datum.p==6?datum.v:0","as":"q6"},{"calculate":"datum.p==7?datum.v:0","as":"q7"},{"calculate":"datum.p==8?datum.v:0","as":"q8"},{"calculate":"datum.p==9?datum.v:0","as":"q9"},{"calculate":"datum.p==10?datum.v:0","as":"q10"},{"calculate":"datum.p==11?datum.v:0","as":"q11"},{"calculate":"datum.p==12?datum.v:0","as":"q12"},{"calculate":"datum.p==13?datum.v:0","as":"q13"},{"calculate":"datum.p==14?datum.v:0","as":"q14"},{"calculate":"datum.p==15?datum.v:0","as":"q15"},{"calculate":"datum.p==16?datum.v:0","as":"q16"},{"calculate":"datum.p==17?datum.v:0","as":"q17"},{"calculate":"datum.p==18?datum.v:0","as":"q18"},{"calculate":"datum.p==19?datum.v:0","as":"q19"},{"calculate":"datum.p==20?datum.v:0","as":"q20"},{"calculate":"datum.p==21?datum.v:0","as":"q21"},{"calculate":"datum.p==22?datum.v:0","as":"q22"},{"calculate":"datum.p==23?datum.v:0","as":"q23"},{"calculate":"datum.p==24?datum.v:0","as":"q24"},
{"joinaggregate":[{"op":"sum","field":"q0","as":"P0"},{"op":"sum","field":"q1","as":"P1"},{"op":"sum","field":"q2","as":"P2"},{"op":"sum","field":"q3","as":"P3"},{"op":"sum","field":"q4","as":"P4"},{"op":"sum","field":"q5","as":"P5"},{"op":"sum","field":"q6","as":"P6"},{"op":"sum","field":"q7","as":"P7"},{"op":"sum","field":"q8","as":"P8"},{"op":"sum","field":"q9","as":"P9"},{"op":"sum","field":"q10","as":"P10"},{"op":"sum","field":"q11","as":"P11"},{"op":"sum","field":"q12","as":"P12"},{"op":"sum","field":"q13","as":"P13"},{"op":"sum","field":"q14","as":"P14"},{"op":"sum","field":"q15","as":"P15"},{"op":"sum","field":"q16","as":"P16"},{"op":"sum","field":"q17","as":"P17"},{"op":"sum","field":"q18","as":"P18"},{"op":"sum","field":"q19","as":"P19"},{"op":"sum","field":"q20","as":"P20"},{"op":"sum","field":"q21","as":"P21"},{"op":"sum","field":"q22","as":"P22"},{"op":"sum","field":"q23","as":"P23"},{"op":"sum","field":"q24","as":"P24"}]},
{"calculate":"datum.p>0?datum.P0/datum.S:0","as":"xa1"},
{"calculate":"datum.p>1?datum.P1/datum.S/(1-datum.xa1):0","as":"ya2"},
{"calculate":"datum.p>2?datum.xa1+datum.P2/datum.S/(1-datum.ya2):datum.xa1","as":"xa3"},
{"calculate":"datum.p>3?datum.ya2+datum.P3/datum.S/(1-datum.xa3):datum.ya2","as":"ya4"},
{"calculate":"datum.p>4?datum.xa3+datum.P4/datum.S/(1-datum.ya4):datum.xa3","as":"xa5"},
{"calculate":"datum.p>5?datum.ya4+datum.P5/datum.S/(1-datum.xa5):datum.ya4","as":"ya6"},
{"calculate":"datum.p>6?datum.xa5+datum.P6/datum.S/(1-datum.ya6):datum.xa5","as":"xa7"},
{"calculate":"datum.p>7?datum.ya6+datum.P7/datum.S/(1-datum.xa7):datum.ya6","as":"ya8"},
{"calculate":"datum.p>8?datum.xa7+datum.P8/datum.S/(1-datum.ya8):datum.xa7","as":"xa9"},
{"calculate":"datum.p>9?datum.ya8+datum.P9/datum.S/(1-datum.xa9):datum.ya8","as":"ya10"},
{"calculate":"datum.p>10?datum.xa9+datum.P10/datum.S/(1-datum.ya10):datum.xa9","as":"xa11"},
{"calculate":"datum.p>11?datum.ya10+datum.P11/datum.S/(1-datum.xa11):datum.ya10","as":"ya12"},
{"calculate":"datum.p>12?datum.xa11+datum.P12/datum.S/(1-datum.ya12):datum.xa11","as":"xa13"},
{"calculate":"datum.p>13?datum.ya12+datum.P13/datum.S/(1-datum.xa13):datum.ya12","as":"ya14"},
{"calculate":"datum.p>14?datum.xa13+datum.P14/datum.S/(1-datum.ya14):datum.xa13","as":"xa15"},
{"calculate":"datum.p>15?datum.ya14+datum.P15/datum.S/(1-datum.xa15):datum.ya14","as":"ya16"},
{"calculate":"datum.p>16?datum.xa15+datum.P16/datum.S/(1-datum.ya16):datum.xa15","as":"xa17"},
{"calculate":"datum.p>17?datum.ya16+datum.P17/datum.S/(1-datum.xa17):datum.ya16","as":"ya18"},
{"calculate":"datum.p>18?datum.xa17+datum.P18/datum.S/(1-datum.ya18):datum.xa17","as":"xa19"},
{"calculate":"datum.p>19?datum.ya18+datum.P19/datum.S/(1-datum.xa19):datum.ya18","as":"ya20"},
{"calculate":"datum.p>20?datum.xa19+datum.P20/datum.S/(1-datum.ya20):datum.xa19","as":"xa21"},
{"calculate":"datum.p>21?datum.ya20+datum.P21/datum.S/(1-datum.xa21):datum.ya20","as":"ya22"},
{"calculate":"datum.p>22?datum.xa21+datum.P22/datum.S/(1-datum.ya22):datum.xa21","as":"xa23"},
{"calculate":"datum.p>23?datum.ya22+datum.P23/datum.S/(1-datum.xa23):datum.ya22","as":"ya24"},
{"calculate":"datum.p>24?datum.xa23+datum.P24/datum.S/(1-datum.ya24):datum.xa23","as":"xa25"},
{"calculate":"1-datum.xa25","as":"rw"},
{"calculate":"1-datum.ya24","as":"rh"},
{"calculate":"datum.p%2==0?datum.xa25+(datum.cp-datum.cs)/datum.S/datum.rh:datum.xa25+(datum.cs-datum.v)/datum.T*datum.rw","as":"x0"},
{"calculate":"datum.p%2==0?datum.x0+datum.T/datum.S/datum.rh:datum.xa25+datum.cs/datum.T*datum.rw","as":"x1"},
{"calculate":"datum.p%2==0?datum.ya24+(datum.cs-datum.v)/datum.T*datum.rh:datum.ya24+(datum.cp-datum.cs)/datum.S/datum.rw","as":"y0"},
{"calculate":"datum.p%2==0?datum.ya24+datum.cs/datum.T*datum.rh:datum.y0+datum.T/datum.S/datum.rw","as":"y1"}
],
"layer":[
{"mark":{"type":"rect","stroke":"#ffffff","strokeWidth":1},
 "encoding":{
  "x":{"field":"x0","type":"quantitative","scale":{"domain":[0,1],"nice":false,"zero":false},"axis":null},
  "x2":{"field":"x1"},
  "y":{"field":"y0","type":"quantitative","scale":{"domain":[0,1],"nice":false,"zero":false,"reverse":true},"axis":null},
  "y2":{"field":"y1"},
  "color":{"field":"c","type":"nominal","legend":null,"scale":{
   "domain":["USA","Germany","Austria","Brazil","France","UK","Sweden","Ireland","Venezuela","Canada","Argentina","Switzerland","Spain","Finland","Mexico","Belgium","Italy","Denmark","Portugal","Poland","Norway"],
   "range":["#c0385f","#963062","#6e2b69","#722a6a","#412a70","#712a69","#c3395f","#3d2a72","#4f2a6e","#9a2f60","#a13262","#c8395f","#2b2a78","#55296d","#1f2a80","#262a7c","#c8395f","#2a2a78","#5a2b6d","#c23a60","#6b2b69"]}}
 }},
{"mark":{"type":"text","align":"left","baseline":"alphabetic","dx":4.5,"dy":16,"color":"#ffffff","font":"Liberation Sans","fontSize":12,"ellipsis":"...",
  "limit":{"expr":"scale('x',datum.x1)-scale('x',datum.x0)-4.5"},
  "opacity":{"expr":"scale('x',datum.x1)-scale('x',datum.x0)>21.5?1:0"}},
 "encoding":{
  "x":{"field":"x0","type":"quantitative","scale":{"domain":[0,1],"nice":false,"zero":false},"axis":null},
  "y":{"field":"y0","type":"quantitative","scale":{"domain":[0,1],"nice":false,"zero":false,"reverse":true},"axis":null},
  "text":{"field":"c"}
 }}
]
}
